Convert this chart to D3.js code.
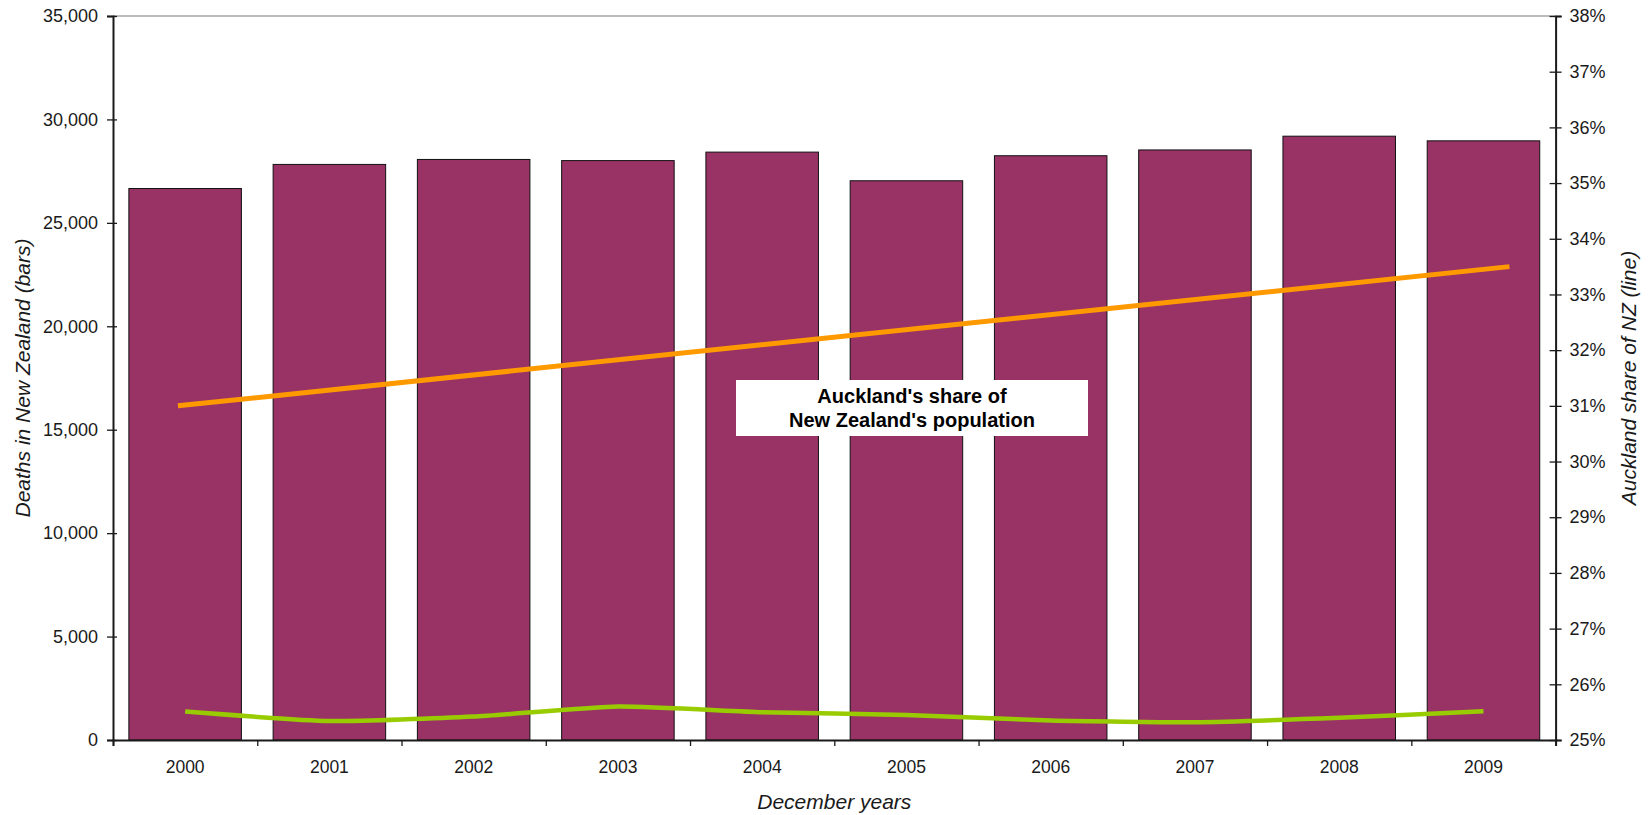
<!DOCTYPE html>
<html>
<head>
<meta charset="utf-8">
<script src="https://cdn.jsdelivr.net/npm/d3@7"></script>
<style>
  html, body { margin: 0; padding: 0; background: #fff; }
  svg { display: block; font-family: "Liberation Sans", Arial, sans-serif; }
</style>
</head>
<body>
<svg id="chart" width="1648" height="815"></svg>
<script>
// December years
const years = ["2000", "2001", "2002", "2003", "2004", "2005", "2006", "2007", "2008", "2009"];
// Deaths registered in New Zealand (bars, left axis)
const deaths = [26660, 27825, 28065, 28010, 28420, 27035, 28245, 28525, 29190, 28965];
// Auckland's share of NZ deaths, % (green line, right axis)
const deathShare = [25.51, 25.34, 25.42, 25.60, 25.50, 25.45, 25.35, 25.32, 25.40, 25.515];
// Auckland's share of NZ population, % (orange straight line, right axis), by decimal year
const popShareYears = [2000.45, 2009.68];
const popShare = [31.0, 33.5];
// Axis ticks
const leftTicks = [0, 5000, 10000, 15000, 20000, 25000, 30000, 35000];
const rightTicks = [25, 26, 27, 28, 29, 30, 31, 32, 33, 34, 35, 36, 37, 38];

const svg = d3.select("#chart");
const W = 1648, H = 815;
const m = { left: 113, right: 92.4, top: 16, bottom: 75 };
const x0 = m.left, x1 = W - m.right, y0 = H - m.bottom, y1 = m.top;

const x = d3.scaleBand().domain(years).range([x0, x1]).paddingInner(0.22).paddingOuter(0.11);
const xt = d3.scaleLinear().domain([2000, 2010]).range([x0, x1]);
const yL = d3.scaleLinear().domain([0, 35000]).range([y0, y1]);
const yR = d3.scaleLinear().domain([25, 38]).range([y0, y1]);

const ink = "#1a1a1a";

// plot area top border
svg.append("line")
  .attr("x1", x0).attr("x2", x1).attr("y1", y1).attr("y2", y1)
  .attr("stroke", "#a6a6a6").attr("stroke-width", 1.5);

// bars
svg.append("g").selectAll("rect")
  .data(years.map((y, i) => ({ year: y, value: deaths[i] })))
  .join("rect")
  .attr("x", d => x(d.year))
  .attr("width", x.bandwidth())
  .attr("y", d => yL(d.value))
  .attr("height", d => yL(0) - yL(d.value))
  .attr("fill", "#993366")
  .attr("stroke", "#111")
  .attr("stroke-width", 1);

// green line: Auckland's share of deaths
const greenLine = d3.line()
  .x((d, i) => x(years[i]) + x.bandwidth() / 2)
  .y(d => yR(d))
  .curve(d3.curveCardinal.tension(0.45));
svg.append("path")
  .datum(deathShare)
  .attr("d", greenLine)
  .attr("fill", "none")
  .attr("stroke", "#99cc00")
  .attr("stroke-width", 4.5);

// orange line: Auckland's share of population
const orangeLine = d3.line()
  .x((d, i) => xt(popShareYears[i]))
  .y(d => yR(d));
svg.append("path")
  .datum(popShare)
  .attr("d", orangeLine)
  .attr("fill", "none")
  .attr("stroke", "#ff9900")
  .attr("stroke-width", 5);

// annotation box
const note = svg.append("g");
note.append("rect")
  .attr("x", 736).attr("y", 380).attr("width", 352).attr("height", 56)
  .attr("fill", "#fff");
note.append("text")
  .attr("x", 912).attr("y", 403)
  .attr("text-anchor", "middle")
  .attr("font-size", 20).attr("font-weight", "bold").attr("fill", "#000")
  .text("Auckland's share of");
note.append("text")
  .attr("x", 912).attr("y", 427)
  .attr("text-anchor", "middle")
  .attr("font-size", 20).attr("font-weight", "bold").attr("fill", "#000")
  .text("New Zealand's population");

// left axis
const gL = svg.append("g").attr("transform", `translate(${x0},0)`)
  .call(d3.axisLeft(yL).tickValues(leftTicks).tickFormat(d3.format(",")).tickSize(6).tickPadding(9));
svg.append("g").attr("transform", `translate(${x0},0)`)
  .call(d3.axisLeft(yL).tickValues(leftTicks).tickFormat("").tickSize(-4))
  .call(g => g.select(".domain").remove());

// right axis
const gR = svg.append("g").attr("transform", `translate(${x1},0)`)
  .call(d3.axisRight(yR).tickValues(rightTicks).tickFormat(d => d + "%").tickSize(6).tickPadding(8));
svg.append("g").attr("transform", `translate(${x1},0)`)
  .call(d3.axisRight(yR).tickValues(rightTicks).tickFormat("").tickSize(-6))
  .call(g => g.select(".domain").remove());

// bottom axis: ticks at category boundaries, labels at centres
const boundaries = d3.range(years.length + 1);
const xb = d3.scaleLinear().domain([0, years.length]).range([x0, x1]);
svg.append("g").attr("transform", `translate(0,${y0})`)
  .call(d3.axisBottom(xb).tickValues(boundaries).tickFormat("").tickSize(6));
svg.append("g").attr("transform", `translate(0,${y0})`)
  .call(d3.axisBottom(x).tickSize(0).tickPadding(21))
  .call(g => g.select(".domain").remove())
  .selectAll("text").attr("font-size", 17.5);

svg.selectAll(".domain").attr("stroke", ink).attr("stroke-width", 2);
svg.selectAll(".tick line").attr("stroke", ink).attr("stroke-width", 1.3);
gL.selectAll("text").attr("font-size", 18).attr("fill", ink);
gR.selectAll("text").attr("font-size", 18).attr("fill", ink);
svg.selectAll(".tick text").attr("fill", ink).attr("font-family", "Liberation Sans, Arial, sans-serif");

// axis titles
svg.append("text")
  .attr("transform", `translate(22,${(y0 + y1) / 2}) rotate(-90)`)
  .attr("text-anchor", "middle").attr("dominant-baseline", "central")
  .attr("font-size", 21).attr("font-style", "italic").attr("fill", ink)
  .text("Deaths in New Zealand (bars)");
svg.append("text")
  .attr("transform", `translate(1628,${(y0 + y1) / 2}) rotate(-90)`)
  .attr("text-anchor", "middle").attr("dominant-baseline", "central")
  .attr("font-size", 21).attr("font-style", "italic").attr("fill", ink)
  .text("Auckland share of NZ (line)");
svg.append("text")
  .attr("x", (x0 + x1) / 2).attr("y", 809)
  .attr("text-anchor", "middle")
  .attr("font-size", 21).attr("font-style", "italic").attr("fill", ink)
  .text("December years");
</script>
</body>
</html>
